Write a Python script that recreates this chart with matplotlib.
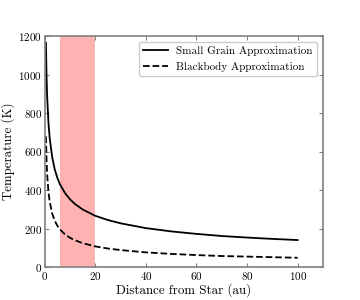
import matplotlib
matplotlib.use('Agg')
import matplotlib.pyplot as plt

plt.rcParams['font.family'] = 'serif'
plt.rcParams['font.serif'] = ['cmr10']
plt.rcParams['mathtext.fontset'] = 'cm'
plt.rcParams['axes.formatter.use_mathtext'] = True

# distance from star (au)
distance = [0.5, 0.75, 1, 1.5, 2, 3, 4, 5, 6, 8, 10, 12, 15, 20,
            25, 30, 40, 50, 60, 70, 80, 90, 100]
small_grain = [1165, 991, 883, 751, 669, 569, 507, 464, 431, 385, 352, 327, 299, 266,
               244, 227, 202, 185, 172, 161, 153, 146, 140]
blackbody = [679, 554, 480, 392, 339, 277, 240, 215, 196, 170, 152, 139, 124, 107,
             96, 88, 76, 68, 62, 57, 54, 51, 48]
zone = [6, 20]

fig = plt.figure(figsize=(3.6, 3.0), dpi=100)
ax = fig.add_axes([0.124, 0.11, 0.773, 0.77])

ax.axvspan(zone[0], zone[1], color='red', alpha=0.3, lw=0)
ax.plot(distance, small_grain, color='black', lw=1.3, label='Small Grain Approximation')
ax.plot(distance, blackbody, color='black', lw=1.3, ls='--', label='Blackbody Approximation')

ax.set_xlim(0, 110)
ax.set_ylim(0, 1200)
ax.set_xticks([0, 20, 40, 60, 80, 100])
ax.set_yticks([0, 200, 400, 600, 800, 1000, 1200])
ax.tick_params(direction='in', top=True, right=True, labelsize=8, color='#808080',
               length=3, pad=2)
for s in ax.spines.values():
    s.set_color('#808080')
    s.set_linewidth(1.2)

ax.set_xlabel('Distance from Star (au)', fontsize=9.3, labelpad=1)
ax.set_ylabel('Temperature (K)', fontsize=9.3, labelpad=2)
ax.legend(loc='upper right', fontsize=8, fancybox=True, framealpha=1,
          edgecolor='#cccccc', handlelength=2.2)

fig.savefig('out.png', dpi=100)
